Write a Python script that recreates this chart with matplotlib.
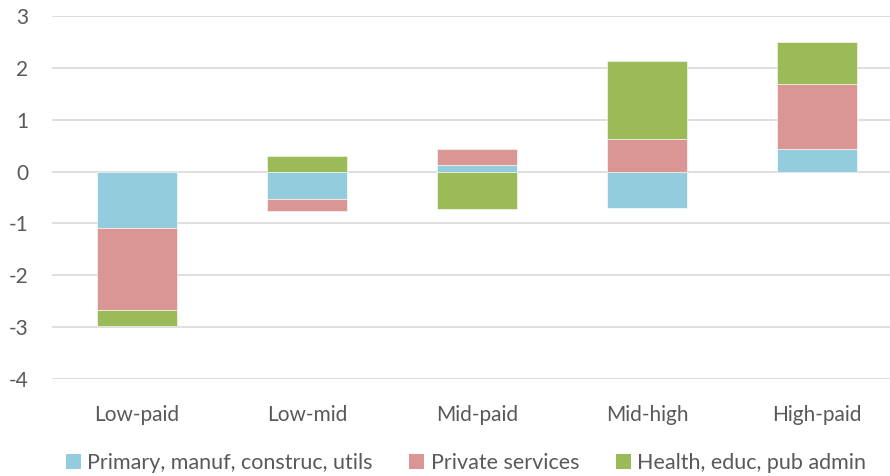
import matplotlib.pyplot as plt
import numpy as np
from matplotlib.patches import Patch

plt.rcParams['font.family'] = ['Lato', 'DejaVu Sans']
plt.rcParams['axes.unicode_minus'] = False

categories = ['Low-paid', 'Low-mid', 'Mid-paid', 'Mid-high', 'High-paid']
series_names = ['Primary, manuf, construc, utils', 'Private services', 'Health, educ, pub admin']
primary = [-1.08, -0.53, 0.13, -0.70, 0.44]
private = [-1.58, -0.23, 0.31, 0.62, 1.24]
health = [-0.31, 0.30, -0.72, 1.52, 0.82]
colors = ['#93CDDD', '#D99694', '#9BBB59']

fig = plt.figure(figsize=(8.9, 4.76), dpi=100)
ax = fig.add_axes([52 / 890, 1 - 379 / 476, 850 / 890, 363 / 476])

x = np.arange(len(categories))
pos_base = np.zeros(len(categories))
neg_base = np.zeros(len(categories))
# stack positives upward and negatives downward, like a spreadsheet chart
for vals, col in zip([primary, private, health], colors):
    vals = np.array(vals)
    bottoms = np.where(vals >= 0, pos_base, neg_base)
    ax.bar(x, vals, width=0.475, bottom=bottoms, color=col,
           edgecolor='white', linewidth=0.4, zorder=3)
    pos_base = pos_base + np.clip(vals, 0, None)
    neg_base = neg_base + np.clip(vals, None, 0)

ax.set_xlim(-0.5, len(categories) - 0.5)
ax.set_ylim(-4, 3)
ax.set_yticks(range(-4, 4))
ax.yaxis.grid(True, color='#D9D9D9', linewidth=1.2, zorder=0)
ax.set_axisbelow(True)
for s in ax.spines.values():
    s.set_visible(False)
ax.tick_params(length=0, labelsize=15, colors='#595959')
ax.tick_params(axis='y', pad=17)
ax.tick_params(axis='x', pad=19)
ax.set_xticks(x)
ax.set_xticklabels(categories)

handles = [Patch(facecolor=c, edgecolor='none') for c in colors]
fig.legend(handles, series_names, loc='center', bbox_to_anchor=(466 / 890, 1 - 463 / 476),
           ncol=3, frameon=False, fontsize=15.5, labelcolor='#595959',
           handlelength=0.7, handleheight=0.7, handletextpad=0.3, columnspacing=1.7)

fig.savefig('out.png', dpi=100)
